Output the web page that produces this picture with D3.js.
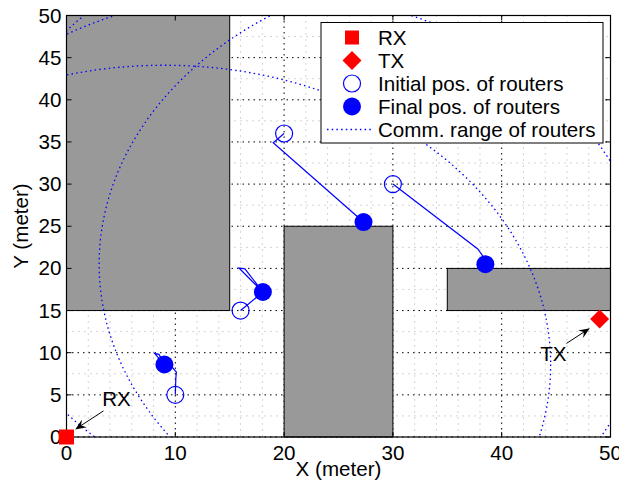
<!DOCTYPE html>
<html>
<head>
<meta charset="utf-8">
<script src="https://cdn.jsdelivr.net/npm/d3@7"></script>
<style>
    body { margin: 0; background: #fff; }
    text { font-family: "Liberation Sans", Arial, Helvetica, sans-serif; fill: #000; }
</style>
</head>
<body>
<svg id="chart" width="619" height="485"></svg>
<script>
// Obstacles, [x0, x1, y0, y1] in meters
const buildings = [[0, 15, 15, 50], [20, 30, 0, 25], [35, 50, 15, 20]];

const rxPos = [0, 0];
const txPos = [49, 14];
const commRange = 35.5;

// Router tracks: first point = initial pos., last point = final pos.
const track1 = [[10, 5], [10.05, 7], [10.1, 7.7], [9.7, 8.3], [9, 8.6], [8.1, 9.9], [8.5, 9.8], [9, 8.6]];
const track2 = [[16, 15], [18.05, 17.2], [15.85, 20.05], [16.4, 19.95], [18.05, 17.2]];
const track3 = [[20, 36], [19, 34.9], [27.3, 25.5]];
const track4 = [[30, 30], [37.8, 22.3], [38.3, 21.4], [38.5, 20.5]];
const tracks = [track1, track2, track3, track4];

const xTicks = [0, 10, 20, 30, 40, 50];
const yTicks = [0, 5, 10, 15, 20, 25, 30, 35, 40, 45, 50];
const xMinor = [2, 4, 6, 8, 12, 14, 16, 18, 22, 24, 26, 28, 32, 34, 36, 38, 42, 44, 46, 48];
const yMinor = [2.5, 7.5, 12.5, 17.5, 22.5, 27.5, 32.5, 37.5, 42.5, 47.5];

// Text labels with arrows: [label, text pos, arrow tail, arrow tip]
const callouts = [
    ['RX', [4.6, 3.7], [3.4, 3.1], [0.8, 0.9]],
    ['TX', [44.75, 9.0], [45.95, 11.1], [48.1, 12.9]]
];

const legendLabels = ['RX', 'TX', 'Initial pos. of routers', 'Final pos. of routers', 'Comm. range of routers'];

const svg = d3.select('#chart');
const pLeft = 66.5, pRight = 610.5, pTop = 15.5, pBottom = 437;
const x = d3.scaleLinear().domain([0, 50]).range([pLeft, pRight]);
const y = d3.scaleLinear().domain([0, 50]).range([pBottom, pTop]);
const blue = '#0000ff', red = '#ff0000';
const fontSize = '20.6px';

svg.append('defs').append('clipPath').attr('id', 'plotClip')
    .append('rect')
    .attr('x', pLeft).attr('y', pTop)
    .attr('width', pRight - pLeft).attr('height', pBottom - pTop);

// Grid lines
const grid = svg.append('g');
grid.selectAll('.vminor').data(xMinor).enter().append('line')
    .attr('x1', d => x(d)).attr('x2', d => x(d))
    .attr('y1', pTop).attr('y2', pBottom)
    .attr('stroke', '#a8a8a8').attr('stroke-dasharray', '1,5');
grid.selectAll('.hminor').data(yMinor).enter().append('line')
    .attr('y1', d => y(d)).attr('y2', d => y(d))
    .attr('x1', pLeft).attr('x2', pRight)
    .attr('stroke', '#a8a8a8').attr('stroke-dasharray', '1,5');
grid.selectAll('.vmajor').data(xTicks).enter().append('line')
    .attr('x1', d => x(d)).attr('x2', d => x(d))
    .attr('y1', pTop).attr('y2', pBottom)
    .attr('stroke', '#000').attr('stroke-dasharray', '1.5,4');
grid.selectAll('.hmajor').data(yTicks).enter().append('line')
    .attr('y1', d => y(d)).attr('y2', d => y(d))
    .attr('x1', pLeft).attr('x2', pRight)
    .attr('stroke', '#000').attr('stroke-dasharray', '1.5,4');

// Buildings
svg.append('g').selectAll('rect').data(buildings).enter().append('rect')
    .attr('x', d => x(d[0]))
    .attr('y', d => y(d[3]))
    .attr('width', d => x(d[1]) - x(d[0]))
    .attr('height', d => y(d[2]) - y(d[3]))
    .attr('fill', '#999999')
    .attr('stroke', '#000')
    .attr('stroke-width', 1);

// Communication range around final router positions
svg.append('g').attr('clip-path', 'url(#plotClip)')
    .selectAll('ellipse').data(tracks).enter().append('ellipse')
    .attr('cx', d => x(d[d.length - 1][0]))
    .attr('cy', d => y(d[d.length - 1][1]))
    .attr('rx', x(commRange) - x(0))
    .attr('ry', y(0) - y(commRange))
    .attr('fill', 'none')
    .attr('stroke', blue)
    .attr('stroke-width', 1.3)
    .attr('stroke-dasharray', '1.5,3.2');

// Router trajectories
const line = d3.line().x(d => x(d[0])).y(d => y(d[1]));
svg.append('g').selectAll('path').data(tracks).enter().append('path')
    .attr('d', line)
    .attr('fill', 'none')
    .attr('stroke', blue)
    .attr('stroke-width', 1.2);

svg.append('g').selectAll('circle').data(tracks).enter().append('circle')
    .attr('cx', d => x(d[0][0])).attr('cy', d => y(d[0][1]))
    .attr('r', 8.5)
    .attr('fill', 'none').attr('stroke', blue).attr('stroke-width', 1.2);

svg.append('g').selectAll('circle').data(tracks).enter().append('circle')
    .attr('cx', d => x(d[d.length - 1][0])).attr('cy', d => y(d[d.length - 1][1]))
    .attr('r', 9)
    .attr('fill', blue);

// Axes frame and ticks
const axes = svg.append('g');
axes.append('rect')
    .attr('x', pLeft).attr('y', pTop)
    .attr('width', pRight - pLeft).attr('height', pBottom - pTop)
    .attr('fill', 'none').attr('stroke', '#000').attr('stroke-width', 1.2);

const tickLen = 5;
xTicks.forEach(t => {
    axes.append('line').attr('x1', x(t)).attr('x2', x(t)).attr('y1', pBottom).attr('y2', pBottom - tickLen).attr('stroke', '#000');
    axes.append('line').attr('x1', x(t)).attr('x2', x(t)).attr('y1', pTop).attr('y2', pTop + tickLen).attr('stroke', '#000');
});
yTicks.forEach(t => {
    axes.append('line').attr('y1', y(t)).attr('y2', y(t)).attr('x1', pLeft).attr('x2', pLeft + tickLen).attr('stroke', '#000');
    axes.append('line').attr('y1', y(t)).attr('y2', y(t)).attr('x1', pRight).attr('x2', pRight - tickLen).attr('stroke', '#000');
});

axes.selectAll('.xlab').data(xTicks).enter().append('text')
    .attr('x', d => x(d)).attr('y', pBottom + 22.5)
    .attr('text-anchor', 'middle')
    .attr('font-size', fontSize)
    .text(d => d);
axes.selectAll('.ylab').data(yTicks).enter().append('text')
    .attr('x', pLeft - 5).attr('y', d => y(d) + 7)
    .attr('text-anchor', 'end')
    .attr('font-size', fontSize)
    .text(d => d);

svg.append('text')
    .attr('x', (pLeft + pRight) / 2).attr('y', 476)
    .attr('text-anchor', 'middle')
    .attr('font-size', fontSize)
    .text('X (meter)');
svg.append('text')
    .attr('transform', 'translate(27.5,226) rotate(-90)')
    .attr('text-anchor', 'middle')
    .attr('font-size', fontSize)
    .text('Y (meter)');

// RX and TX
svg.append('rect')
    .attr('x', x(rxPos[0]) - 7.5).attr('y', y(rxPos[1]) - 7.5)
    .attr('width', 15).attr('height', 15)
    .attr('fill', red);
svg.append('path')
    .attr('d', d3.symbol().type(d3.symbolSquare).size(180)())
    .attr('transform', `translate(${x(txPos[0])},${y(txPos[1])}) rotate(45)`)
    .attr('fill', red);

// Callouts with arrows
callouts.forEach(([label, pos, from, to]) => {
    svg.append('text')
        .attr('x', x(pos[0])).attr('y', y(pos[1]))
        .attr('text-anchor', 'middle')
        .attr('font-size', fontSize)
        .text(label);
    const x1 = x(from[0]), y1 = y(from[1]), x2 = x(to[0]), y2 = y(to[1]);
    const ang = Math.atan2(y2 - y1, x2 - x1);
    const ux = Math.cos(ang), uy = Math.sin(ang);
    const len = 11, half = 4.5, notch = 7;
    svg.append('line')
        .attr('x1', x1).attr('y1', y1)
        .attr('x2', x2 - ux * notch).attr('y2', y2 - uy * notch)
        .attr('stroke', '#000').attr('stroke-width', 1);
    const head = [
        [x2, y2],
        [x2 - ux * len - uy * half, y2 - uy * len + ux * half],
        [x2 - ux * notch, y2 - uy * notch],
        [x2 - ux * len + uy * half, y2 - uy * len - ux * half]
    ];
    svg.append('path')
        .attr('d', 'M' + head.map(p => p.join(',')).join('L') + 'Z')
        .attr('fill', '#000');
});

// Legend
const legend = svg.append('g');
legend.append('rect')
    .attr('x', 321).attr('y', 22.5)
    .attr('width', 282).attr('height', 120.5)
    .attr('fill', '#fff').attr('stroke', '#000').attr('stroke-width', 1);

const rowY = i => 37.5 + i * 23;
const mx = 352;
legend.append('rect').attr('x', mx - 7).attr('y', rowY(0) - 7).attr('width', 14).attr('height', 14).attr('fill', red);
legend.append('path')
    .attr('d', d3.symbol().type(d3.symbolSquare).size(180)())
    .attr('transform', `translate(${mx},${rowY(1)}) rotate(45)`)
    .attr('fill', red);
legend.append('circle').attr('cx', mx).attr('cy', rowY(2)).attr('r', 8.5)
    .attr('fill', 'none').attr('stroke', blue).attr('stroke-width', 1.2);
legend.append('circle').attr('cx', mx).attr('cy', rowY(3)).attr('r', 9).attr('fill', blue);
legend.append('line')
    .attr('x1', 327).attr('x2', 372).attr('y1', rowY(4)).attr('y2', rowY(4))
    .attr('stroke', blue).attr('stroke-width', 1.3).attr('stroke-dasharray', '1.5,3.2');

legend.selectAll('text').data(legendLabels).enter().append('text')
    .attr('x', 378).attr('y', (d, i) => rowY(i) + 7)
    .attr('font-size', fontSize)
    .text(d => d);
</script>
</body>
</html>
